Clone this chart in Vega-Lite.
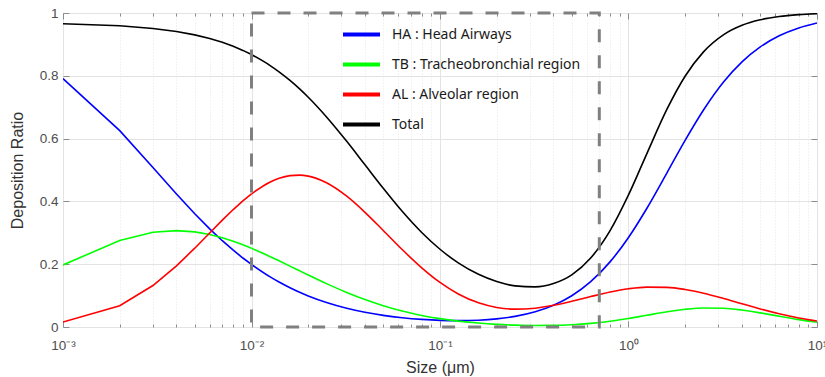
{
  "$schema": "https://vega.github.io/schema/vega-lite/v6.json",
  "width": 754,
  "height": 314,
  "autosize": "none",
  "padding": {"left": 63, "top": 13, "right": 8, "bottom": 50},
  "background": "white",
  "config": {
    "view": {"stroke": "#a6a6a6", "strokeWidth": 1},
    "font": "Liberation Sans",
    "axis": {"domain": false, "labelFont": "Liberation Sans", "titleFont": "Liberation Sans", "labelColor": "#4d4d4d", "titleColor": "#333333", "labelFontSize": 13.5, "titleFontSize": 16, "titleFontWeight": "normal", "tickColor": "#8c8c8c"}
  },
  "datasets": {
    "curves": [
      {"d": 0.001, "HA": 0.7911, "TB": 0.1976, "AL": 0.0159, "Total": 0.966},
      {"d": 0.002, "HA": 0.6252, "TB": 0.2757, "AL": 0.0679, "Total": 0.9593},
      {"d": 0.003, "HA": 0.508, "TB": 0.3017, "AL": 0.132, "Total": 0.9508},
      {"d": 0.004, "HA": 0.4235, "TB": 0.3069, "AL": 0.1946, "Total": 0.9411},
      {"d": 0.005, "HA": 0.3608, "TB": 0.3029, "AL": 0.251, "Total": 0.9304},
      {"d": 0.006, "HA": 0.3126, "TB": 0.2945, "AL": 0.2994, "Total": 0.9188},
      {"d": 0.007, "HA": 0.2748, "TB": 0.2842, "AL": 0.3404, "Total": 0.9066},
      {"d": 0.008, "HA": 0.2445, "TB": 0.273, "AL": 0.3741, "Total": 0.8939},
      {"d": 0.009, "HA": 0.2197, "TB": 0.2617, "AL": 0.4018, "Total": 0.8809},
      {"d": 0.01, "HA": 0.1992, "TB": 0.2506, "AL": 0.4241, "Total": 0.8676},
      {"d": 0.0125, "HA": 0.1604, "TB": 0.2247, "AL": 0.4612, "Total": 0.8334},
      {"d": 0.014, "HA": 0.1432, "TB": 0.2107, "AL": 0.4736, "Total": 0.8127},
      {"d": 0.016, "HA": 0.125, "TB": 0.1939, "AL": 0.4821, "Total": 0.7852},
      {"d": 0.018, "HA": 0.1105, "TB": 0.1789, "AL": 0.4837, "Total": 0.7581},
      {"d": 0.02, "HA": 0.099, "TB": 0.1655, "AL": 0.4805, "Total": 0.7317},
      {"d": 0.025, "HA": 0.078, "TB": 0.1381, "AL": 0.4594, "Total": 0.669},
      {"d": 0.032, "HA": 0.0597, "TB": 0.11, "AL": 0.4166, "Total": 0.5913},
      {"d": 0.04, "HA": 0.0469, "TB": 0.0873, "AL": 0.3653, "Total": 0.5166},
      {"d": 0.05, "HA": 0.0371, "TB": 0.0678, "AL": 0.3075, "Total": 0.4419},
      {"d": 0.063, "HA": 0.0296, "TB": 0.0508, "AL": 0.2467, "Total": 0.3686},
      {"d": 0.08, "HA": 0.0242, "TB": 0.0368, "AL": 0.1885, "Total": 0.3011},
      {"d": 0.1, "HA": 0.0211, "TB": 0.0266, "AL": 0.142, "Total": 0.2476},
      {"d": 0.125, "HA": 0.0202, "TB": 0.0188, "AL": 0.1053, "Total": 0.2042},
      {"d": 0.16, "HA": 0.0217, "TB": 0.0125, "AL": 0.0771, "Total": 0.1677},
      {"d": 0.2, "HA": 0.0259, "TB": 0.0085, "AL": 0.0623, "Total": 0.1447},
      {"d": 0.25, "HA": 0.0338, "TB": 0.006, "AL": 0.0568, "Total": 0.1311},
      {"d": 0.32, "HA": 0.0484, "TB": 0.0048, "AL": 0.0599, "Total": 0.1279},
      {"d": 0.4, "HA": 0.0691, "TB": 0.0051, "AL": 0.069, "Total": 0.1384},
      {"d": 0.5, "HA": 0.0995, "TB": 0.0071, "AL": 0.0819, "Total": 0.166},
      {"d": 0.63, "HA": 0.1443, "TB": 0.0114, "AL": 0.0969, "Total": 0.2195},
      {"d": 0.8, "HA": 0.2082, "TB": 0.0184, "AL": 0.1114, "Total": 0.3077},
      {"d": 1, "HA": 0.2852, "TB": 0.0272, "AL": 0.1217, "Total": 0.4206},
      {"d": 1.25, "HA": 0.3775, "TB": 0.0374, "AL": 0.1271, "Total": 0.5516},
      {"d": 1.6, "HA": 0.4911, "TB": 0.0486, "AL": 0.1262, "Total": 0.6936},
      {"d": 2, "HA": 0.595, "TB": 0.0565, "AL": 0.1194, "Total": 0.7993},
      {"d": 2.5, "HA": 0.691, "TB": 0.0607, "AL": 0.1077, "Total": 0.8762},
      {"d": 3.2, "HA": 0.7808, "TB": 0.0597, "AL": 0.0908, "Total": 0.9311},
      {"d": 4, "HA": 0.8443, "TB": 0.054, "AL": 0.074, "Total": 0.9608},
      {"d": 5, "HA": 0.892, "TB": 0.045, "AL": 0.0575, "Total": 0.9784},
      {"d": 6.3, "HA": 0.9274, "TB": 0.0342, "AL": 0.0421, "Total": 0.9888},
      {"d": 8, "HA": 0.9525, "TB": 0.0235, "AL": 0.0289, "Total": 0.9947},
      {"d": 10, "HA": 0.9683, "TB": 0.0152, "AL": 0.0193, "Total": 0.9979}
    ],
    "box": [{"x1": 0.01, "x2": 0.7, "y1": 0, "y2": 1}]
  },
  "layer": [
    {
      "data": {"name": "curves"},
      "transform": [{"filter": "datum.d <= 0.01"}, {"fold": ["HA", "TB", "AL", "Total"], "as": ["series", "ratio"]}],
      "mark": {"type": "line", "strokeWidth": 1.6, "clip": true},
      "encoding": {
        "x": {
          "field": "d", "type": "quantitative",
          "scale": {"type": "log", "domain": [0.001, 10], "nice": false},
          "axis": {
            "orient": "bottom",
            "title": "Size (μm)",
            "titlePadding": 5,
            "values": [0.001,0.002,0.003,0.004,0.005,0.006,0.007,0.008,0.009,0.01,0.02,0.03,0.04,0.05,0.06,0.07,0.08,0.09,0.1,0.2,0.3,0.4,0.5,0.6,0.7,0.8,0.9,1,2,3,4,5,6,7,8,9,10],
            "labelExpr": "datum.value == 0.001 ? '10⁻³' : datum.value == 0.01 ? '10⁻²' : datum.value == 0.1 ? '10⁻¹' : datum.value == 1 ? '10⁰' : datum.value == 10 ? '10¹' : ''",
            "labelPadding": 17,
            "labelFlush": false,
            "labelOverlap": false,
            "tickSize": {"condition": {"test": "indexof([0.001,0.01,0.1,1,10], datum.value) >= 0", "value": -6}, "value": -3},
            "grid": true,
            "gridColor": {"condition": {"test": "indexof([0.001,0.01,0.1,1,10], datum.value) >= 0", "value": "#e3e3e3"}, "value": "#e6e6e6"},
            "gridDash": {"condition": {"test": "indexof([0.001,0.01,0.1,1,10], datum.value) >= 0", "value": []}, "value": [1, 2]}
          }
        },
        "y": {
          "field": "ratio", "type": "quantitative",
          "scale": {"domain": [0, 1], "nice": false},
          "axis": {
            "orient": "left",
            "title": "Deposition Ratio",
            "titlePadding": 14,
            "values": [0, 0.2, 0.4, 0.6, 0.8, 1],
            "format": "~g",
            "tickSize": -6,
            "labelPadding": 11,
            "grid": true,
            "gridColor": "#e3e3e3"
          }
        },
        "color": {
          "field": "series", "type": "nominal",
          "scale": {"domain": ["HA", "TB", "AL", "Total"], "range": ["#0000ff", "#00ff00", "#ff0000", "#000000"]},
          "legend": {
            "orient": "none",
            "legendX": 278,
            "legendY": 1,
            "title": null,
            "symbolType": "stroke",
            "symbolSize": 1369,
            "symbolStrokeWidth": 4,
            "labelFont": "Noto Sans",
            "labelFontSize": 14,
            "labelLimit": 400,
            "labelColor": "#1a1a1a",
            "labelOffset": 10,
            "rowPadding": 1,
            "labelExpr": "datum.value == 'HA' ? 'HA : Head Airways' : datum.value == 'TB' ? 'TB : Tracheobronchial region' : datum.value == 'AL' ? 'AL : Alveolar region' : 'Total'"
          }
        }
      }
    },
    {
      "data": {"name": "curves"},
      "transform": [{"filter": "datum.d >= 0.01"}, {"fold": ["HA", "TB", "AL", "Total"], "as": ["series", "ratio"]}],
      "mark": {"type": "line", "strokeWidth": 1.6, "clip": true, "interpolate": "monotone"},
      "encoding": {
        "x": {"field": "d", "type": "quantitative", "scale": {"type": "log", "domain": [0.001, 10], "nice": false}, "axis": null},
        "y": {"field": "ratio", "type": "quantitative", "scale": {"domain": [0, 1], "nice": false}, "axis": null},
        "color": {"field": "series", "type": "nominal", "scale": {"domain": ["HA", "TB", "AL", "Total"], "range": ["#0000ff", "#00ff00", "#ff0000", "#000000"]}, "legend": null}
      }
    },
    {
      "data": {"name": "box"},
      "mark": {"type": "rect", "fill": null, "filled": false, "stroke": "#808080", "strokeWidth": 3, "strokeDash": [13, 13]},
      "encoding": {
        "x": {
          "field": "x1", "type": "quantitative",
          "scale": {"type": "log", "domain": [0.001, 10], "nice": false},
          "axis": {
            "orient": "top", "title": null, "labels": false, "grid": false,
            "values": [0.001,0.002,0.003,0.004,0.005,0.006,0.007,0.008,0.009,0.01,0.02,0.03,0.04,0.05,0.06,0.07,0.08,0.09,0.1,0.2,0.3,0.4,0.5,0.6,0.7,0.8,0.9,1,2,3,4,5,6,7,8,9,10],
            "tickSize": {"condition": {"test": "indexof([0.001,0.01,0.1,1,10], datum.value) >= 0", "value": -6}, "value": -3}
          }
        },
        "x2": {"field": "x2"},
        "y": {
          "field": "y1", "type": "quantitative",
          "scale": {"domain": [0, 1], "nice": false},
          "axis": {"orient": "right", "title": null, "labels": false, "grid": false, "values": [0, 0.2, 0.4, 0.6, 0.8, 1], "tickSize": -6}
        },
        "y2": {"field": "y2"}
      }
    }
  ],
  "resolve": {"axis": {"x": "independent", "y": "independent"}}
}
